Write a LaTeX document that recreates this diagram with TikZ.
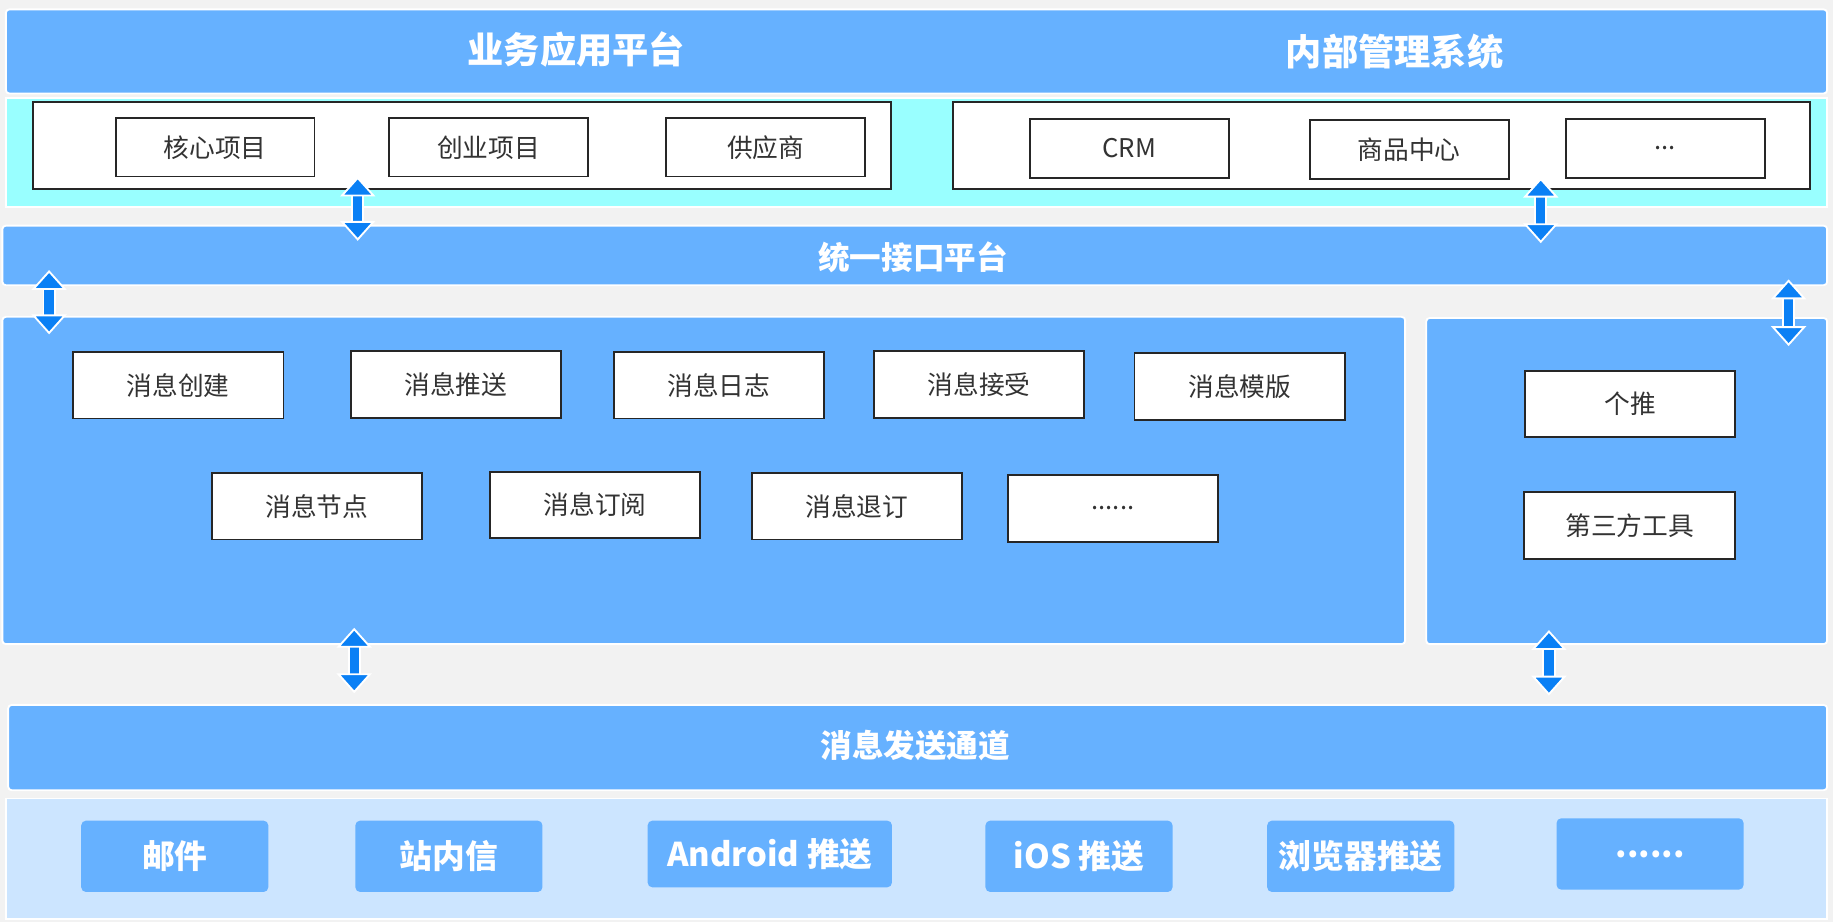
\documentclass[tikz,border=0pt]{standalone}
\usepackage{fontspec}
\setmainfont{Noto Sans CJK SC}
\usetikzlibrary{arrows.meta}
\definecolor{bgGray}{HTML}{F2F2F2}
\definecolor{layerBlue}{HTML}{66B1FF}
\definecolor{bandCyan}{HTML}{99FFFF}
\definecolor{bandLight}{HTML}{CCE5FF}
\definecolor{arrowBlue}{HTML}{0A80F5}
\definecolor{boxText}{HTML}{333333}

\begin{document}
\begin{tikzpicture}[x=0.5pt, y=-0.5pt,
    layer/.style={fill=layerBlue, draw=white, line width=0.8pt, rounded corners=1.5pt, inner sep=0},
    band/.style={draw=white, line width=0.8pt, inner sep=0},
    item/.style={fill=white, draw=black!85, line width=0.8pt, minimum width=90pt, minimum height=28.5pt, inner sep=0, text=boxText, font=\fontsize{11}{13}\selectfont},
    sysitem/.style={item, minimum width=85pt, minimum height=25pt},
    channel/.style={fill=layerBlue, rounded corners=2pt, minimum width=80pt, minimum height=30.5pt, inner sep=0, text=white, font=\fontsize{14}{16}\selectfont\bfseries},
    title/.style={text=white, font=\fontsize{15.5}{18}\selectfont\bfseries},
    subtitle/.style={text=white, font=\fontsize{13.5}{16}\selectfont\bfseries},
    biarrow/.style={arrowBlue, line width=4pt,
      {Triangle[width=15pt,length=8.5pt,fill=arrowBlue,color=white,line width=0.8pt]}-{Triangle[width=15pt,length=8.5pt,fill=arrowBlue,color=white,line width=0.8pt]},
      preaction={draw=white, line width=5.6pt, -, shorten <=7pt, shorten >=7pt}}]
  \useasboundingbox (0,0) rectangle (1568,789);
  \fill[bgGray] (0,0) rectangle (1568,789);

  % top layer
  \node[layer, minimum width=779pt, minimum height=36pt] (apps) at (784,44) {};
  \node[title] (bizTitle) at (493,42) {业务应用平台};
  \node[title] (mgmtTitle) at (1193,44) {内部管理系统};
  \node[band, fill=bandCyan, minimum width=779pt, minimum height=46.5pt] (appBand) at (784,130.5) {};
  \node[fill=white, draw=black!85, line width=0.8pt, minimum width=367pt, minimum height=37.5pt] (bizSys) at (395,124.5) {};
  \node[fill=white, draw=black!85, line width=0.8pt, minimum width=366.5pt, minimum height=37.5pt] (mgmtSys) at (1181.5,124.5) {};
  \node[sysitem] (core) at (184,126) {核心项目};
  \node[sysitem] (startup) at (418,126) {创业项目};
  \node[sysitem] (supplier) at (655,126) {供应商};
  \node[sysitem] (crm) at (966,127) {CRM};
  \node[sysitem] (goods) at (1205.5,128) {商品中心};
  \node[sysitem] (moreSys) at (1424.5,127) {...};

  % api layer
  \node[layer, minimum width=780.5pt, minimum height=25.5pt] (api) at (782.5,218.5) {};
  \node[subtitle] (apiTitle) at (781,220) {统一接口平台};

  % message center
  \node[layer, minimum width=600pt, minimum height=140pt] (msgCenter) at (602,411) {};
  \node[layer, minimum width=171.5pt, minimum height=139.5pt] (thirdParty) at (1391.5,411.5) {};
  \node[item] (create) at (152.5,329.5) {消息创建};
  \node[item] (push) at (390,329) {消息推送};
  \node[item] (log) at (615,329.5) {消息日志};
  \node[item] (receive) at (837.5,329) {消息接受};
  \node[item] (template) at (1060.5,330.5) {消息模版};
  \node[item] (node) at (271,433) {消息节点};
  \node[item] (subscribe) at (509,432) {消息订阅};
  \node[item] (unsubscribe) at (733,433) {消息退订};
  \node[item] (moreMsg) at (952,435) {......};
  \node[item] (getui) at (1394.5,345.5) {个推};
  \node[item] (tools) at (1394,449.5) {第三方工具};

  % channel layer
  \node[layer, minimum width=778pt, minimum height=36.5pt] (send) at (785,639.5) {};
  \node[subtitle] (sendTitle) at (783,638) {消息发送通道};
  \node[band, fill=bandLight, minimum width=779pt, minimum height=51.5pt] (chanBand) at (784,734.5) {};
  \node[channel] (mail) at (149.5,732.5) {邮件};
  \node[channel] (inbox) at (384,732.5) {站内信};
  \node[channel, minimum width=104.5pt, minimum height=28.5pt] (android) at (658.5,730.5) {Android 推送};
  \node[channel] (ios) at (923,732.5) {iOS 推送};
  \node[channel] (browser) at (1164,732.5) {浏览器推送};
  \node[channel] (moreChan) at (1411.5,730.5) {......};

  % arrows
  \coordinate (a1t) at (306,151);  \coordinate (a1b) at (306,206);
  \coordinate (a2t) at (1318,152); \coordinate (a2b) at (1318,208);
  \coordinate (a3t) at (42,231);   \coordinate (a3b) at (42,286);
  \coordinate (a4t) at (1530,239); \coordinate (a4b) at (1530,296);
  \coordinate (a5t) at (303,537);  \coordinate (a5b) at (303,593);
  \coordinate (a6t) at (1325,539); \coordinate (a6b) at (1325,595);
  \draw[biarrow] (a1t) -- (a1b);
  \draw[biarrow] (a2t) -- (a2b);
  \draw[biarrow] (a3t) -- (a3b);
  \draw[biarrow] (a4t) -- (a4b);
  \draw[biarrow] (a5t) -- (a5b);
  \draw[biarrow] (a6t) -- (a6b);
\end{tikzpicture}
\end{document}
